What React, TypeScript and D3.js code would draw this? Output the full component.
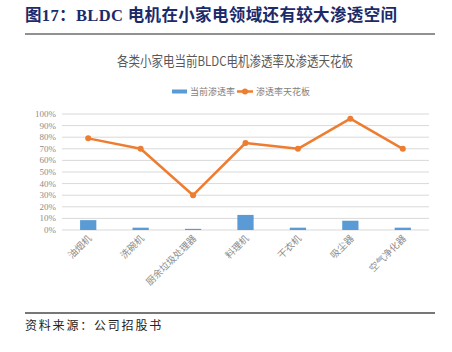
import * as d3 from "d3";

const categories = ["油烟机", "洗碗机", "厨余垃圾处理器", "料理机", "干衣机", "吸尘器", "空气净化器"];
const currentRate = [0.085, 0.02, 0.01, 0.13, 0.02, 0.08, 0.02];
const ceilingRate = [0.79, 0.7, 0.3, 0.75, 0.7, 0.96, 0.7];
const yTicks = [0, 0.1, 0.2, 0.3, 0.4, 0.5, 0.6, 0.7, 0.8, 0.9, 1.0];

const W = 452;
const H = 352;
const plot = { left: 62, right: 429, top: 114, bottom: 230 };

export default function App() {
  const x = d3
    .scaleBand<string>()
    .domain(categories)
    .range([plot.left, plot.right])
    .paddingInner(0.69)
    .paddingOuter(0.345);
  const xc = d3
    .scaleBand<string>()
    .domain(categories)
    .range([plot.left, plot.right]);
  const y = d3.scaleLinear().domain([0, 1]).range([plot.bottom, plot.top]);

  const line = d3
    .line<number>()
    .x((_, i) => (xc(categories[i]) as number) + xc.bandwidth() / 2)
    .y((d) => y(d));

  const cjk = "'Noto Sans CJK SC', sans-serif";

  return (
    <div style={{ position: "absolute", left: 0, top: 0 }}>
      <svg width={W} height={H} style={{ display: "block", background: "#fff" }}>
        <text
          x={25}
          y={21}
          fontFamily="'Liberation Serif', 'Noto Sans CJK SC', serif"
          fontWeight="bold"
          fontSize={16.5}
          fill="#1b2a6b"
          textLength={372}
          lengthAdjust="spacing"
        >
          图17：BLDC 电机在小家电领域还有较大渗透空间
        </text>
        <line x1={25} x2={435} y1={34} y2={34} stroke="#222" strokeWidth={1} />

        <text
          x={117}
          y={66}
          fontFamily={cjk}
          fontSize={13.5}
          fill="#595959"
          textLength={236}
          lengthAdjust="spacingAndGlyphs"
        >
          各类小家电当前BLDC电机渗透率及渗透天花板
        </text>

        {/* legend */}
        <rect x={172} y={89.5} width={15} height={4} fill="#5B9BD5" />
        <text x={190} y={95} fontFamily={cjk} fontSize={9} fill="#7f7f7f">
          当前渗透率
        </text>
        <line x1={237} x2={253} y1={91.5} y2={91.5} stroke="#ED7D31" strokeWidth={2.5} />
        <circle cx={245} cy={91.5} r={3} fill="#ED7D31" />
        <text x={256} y={95} fontFamily={cjk} fontSize={9} fill="#7f7f7f">
          渗透率天花板
        </text>

        {/* grid + y labels */}
        {yTicks.map((t) => (
          <g key={t}>
            <line x1={plot.left} x2={plot.right} y1={y(t)} y2={y(t)} stroke="#d9d9d9" strokeWidth={1} />
            <text
              x={56}
              y={y(t) + 3}
              textAnchor="end"
              fontFamily="'Liberation Serif', serif"
              fontSize={9}
              fill="#8c8c8c"
            >
              {d3.format(".0%")(t)}
            </text>
          </g>
        ))}

        {/* bars */}
        {categories.map((c, i) => (
          <rect
            key={c}
            x={x(c)}
            y={y(currentRate[i])}
            width={x.bandwidth()}
            height={y(0) - y(currentRate[i])}
            fill="#5B9BD5"
          />
        ))}

        {/* line */}
        <path d={line(ceilingRate) || ""} fill="none" stroke="#ED7D31" strokeWidth={2.5} strokeLinejoin="round" />
        {ceilingRate.map((v, i) => (
          <circle
            key={i}
            cx={(xc(categories[i]) as number) + xc.bandwidth() / 2}
            cy={y(v)}
            r={3}
            fill="#ED7D31"
          />
        ))}

        {/* x labels */}
        {categories.map((c) => {
          const cx = (xc(c) as number) + xc.bandwidth() / 2 + 4;
          return (
            <text
              key={c}
              transform={`translate(${cx},239) rotate(-45)`}
              textAnchor="end"
              fontFamily={cjk}
              fontSize={9.5}
              fill="#8c8c8c"
            >
              {c}
            </text>
          );
        })}

        <line x1={25} x2={435} y1={313} y2={313} stroke="#777" strokeWidth={2} />
        <text x={25} y={330} fontFamily={cjk} fontSize={12} fill="#222" letterSpacing={1.8}>
          资料来源：公司招股书
        </text>
      </svg>
    </div>
  );
}
